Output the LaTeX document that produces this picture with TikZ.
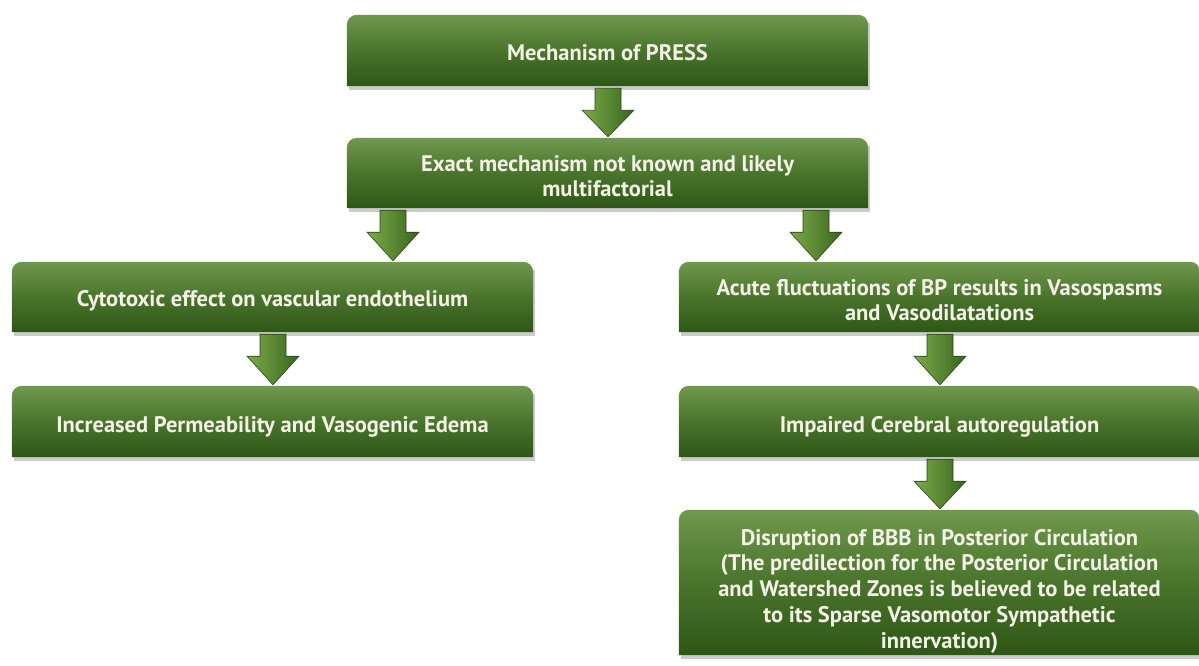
\documentclass[tikz,border=0pt]{standalone}
\usepackage{fontspec}
\setmainfont{PT Sans}
\usetikzlibrary{backgrounds,calc}
\definecolor{gtop}{RGB}{112,152,78}
\definecolor{gmid}{RGB}{74,116,44}
\definecolor{gbot}{RGB}{46,86,22}
\definecolor{txtc}{RGB}{242,242,230}
\definecolor{arL}{RGB}{124,170,74}
\definecolor{arR}{RGB}{56,102,28}
\definecolor{arE}{RGB}{40,70,25}
\tikzset{
  gbox/.style={minimum width=521pt, inner sep=0pt, text=txtc,
    font=\bfseries\fontsize{22.5}{25.7}\selectfont},
  tsh/.style={execute at begin node={\rule{0pt}{#1}}},
  arrowsh/.style={left color=arL, right color=arR, draw=arE, line width=0.6pt, line join=miter},
  boxshadow/.style={fill=black!45, opacity=0.45},
}
\newcommand\lw[2]{\raisebox{-#1}[\height][\depth]{\begin{tabular}{@{}c@{}}#2\end{tabular}}}
\newcommand\boxshape[1]{%
  \fill[boxshadow] ([xshift=2pt,yshift=-3.5pt]#1.south west) rectangle ([xshift=2pt,yshift=-8pt]#1.north east);
  \shade[top color=gtop, bottom color=gbot, middle color=gmid]
    (#1.south west) -- ([yshift=-10pt]#1.north west)
    arc[start angle=180,end angle=90,radius=10pt]
    -- ([xshift=-10pt]#1.north east)
    arc[start angle=90,end angle=0,radius=10pt]
    -- (#1.south east) -- cycle;}
\newcommand\garrow[3]{%
  \shade[arrowsh] let \p1=(#1.south), \p2=(#2.north) in
    ({#3pt-13pt},{\y1-2pt}) -- ({#3pt+13pt},{\y1-2pt}) -- ({#3pt+13pt},{\y1-24pt})
    -- ({#3pt+26pt},{\y1-24pt}) -- ({#3pt},{\y2+1pt}) -- ({#3pt-26pt},{\y1-24pt})
    -- ({#3pt-13pt},{\y1-24pt}) -- cycle;}
\begin{document}
\begin{tikzpicture}[x=1pt,y=-1pt]
\useasboundingbox (0,0) rectangle (1199,666);
\node[gbox, tsh=21pt, minimum height=71pt] (n1) at (607.5,50.5) {Mechanism of PRESS};
\node[gbox, minimum height=70pt] (n2) at (607.5,173) {\lw{6pt}{Exact mechanism not known and likely\\multifactorial}};
\node[gbox, tsh=24pt, minimum height=70pt] (l1) at (272.5,297) {Cytotoxic effect on vascular endothelium};
\node[gbox, tsh=27pt, minimum height=71pt] (l2) at (272.5,421.5) {Increased Permeability and Vasogenic Edema};
\node[gbox, minimum height=70pt] (r1) at (939.5,297) {\lw{6pt}{Acute fluctuations of BP results in Vasospasms\\and Vasodilatations}};
\node[gbox, tsh=27pt, minimum height=71pt] (r2) at (939.5,421.5) {Impaired Cerebral autoregulation};
\node[gbox, minimum height=145pt] (r3) at (939.5,582.5) {\lw{9pt}{Disruption of BBB in Posterior Circulation\\(The predilection for the Posterior Circulation\\and Watershed Zones is believed to be related\\to its Sparse Vasomotor Sympathetic\\innervation)}};
\begin{pgfonlayer}{background}
\foreach \n in {n1,n2,l1,l2,r1,r2,r3}{\boxshape{\n}}
\end{pgfonlayer}
\garrow{n1}{n2}{608}
\garrow{n2}{l1}{393}
\garrow{n2}{r1}{816}
\garrow{l1}{l2}{273}
\garrow{r1}{r2}{940}
\garrow{r2}{r3}{940}
\end{tikzpicture}
\end{document}
